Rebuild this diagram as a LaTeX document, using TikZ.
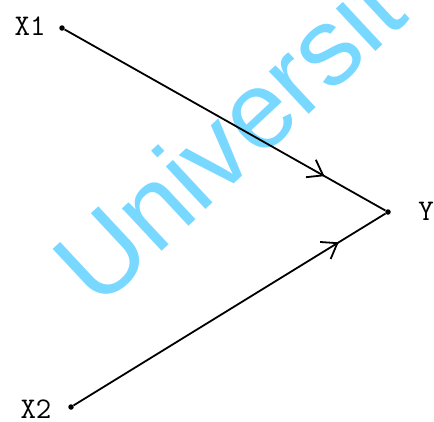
\documentclass[tikz,border=0pt]{standalone}
\usepackage{fontspec}
\newfontfamily\wmfont{Liberation Sans}
\usetikzlibrary{arrows.meta,decorations.markings}
\definecolor{wmblue}{RGB}{120,216,255}
\tikzset{
  dot/.style={circle,fill=black,inner sep=0pt,minimum size=5.5pt},
  lab/.style={font=\ttfamily\fontsize{30}{30}\selectfont,inner sep=0pt},
  conn/.style={line width=1.8pt,postaction={decorate},
    decoration={markings,mark=at position #1 with {\arrow{Straight Barb[length=14pt,width=20pt,line width=1.8pt]}}}},
  wm/.style={font=\wmfont\fontsize{110}{110}\selectfont,text=wmblue,inner sep=0pt,rotate=43,anchor=base west}
}
\begin{document}
\begin{tikzpicture}[x=1pt,y=-1pt]
\useasboundingbox (0,0) rectangle (434,421);
\begin{scope}
\clip (0,0) rectangle (434,421);
\node[wm] (wm) at (98,311) {Universit};
\end{scope}
\node[dot] (x1) at (62,28) {};
\node[dot] (y) at (388,212) {};
\node[dot] (x2) at (71,407) {};
\node[lab] (lx1) at (30,26) {X1};
\node[lab] (lx2) at (36,409) {X2};
\node[lab] (ly) at (426,211) {Y};
\draw[conn=0.81] (x1) -- (y);
\draw[conn=0.85] (x2) -- (y);
\end{tikzpicture}
\end{document}
